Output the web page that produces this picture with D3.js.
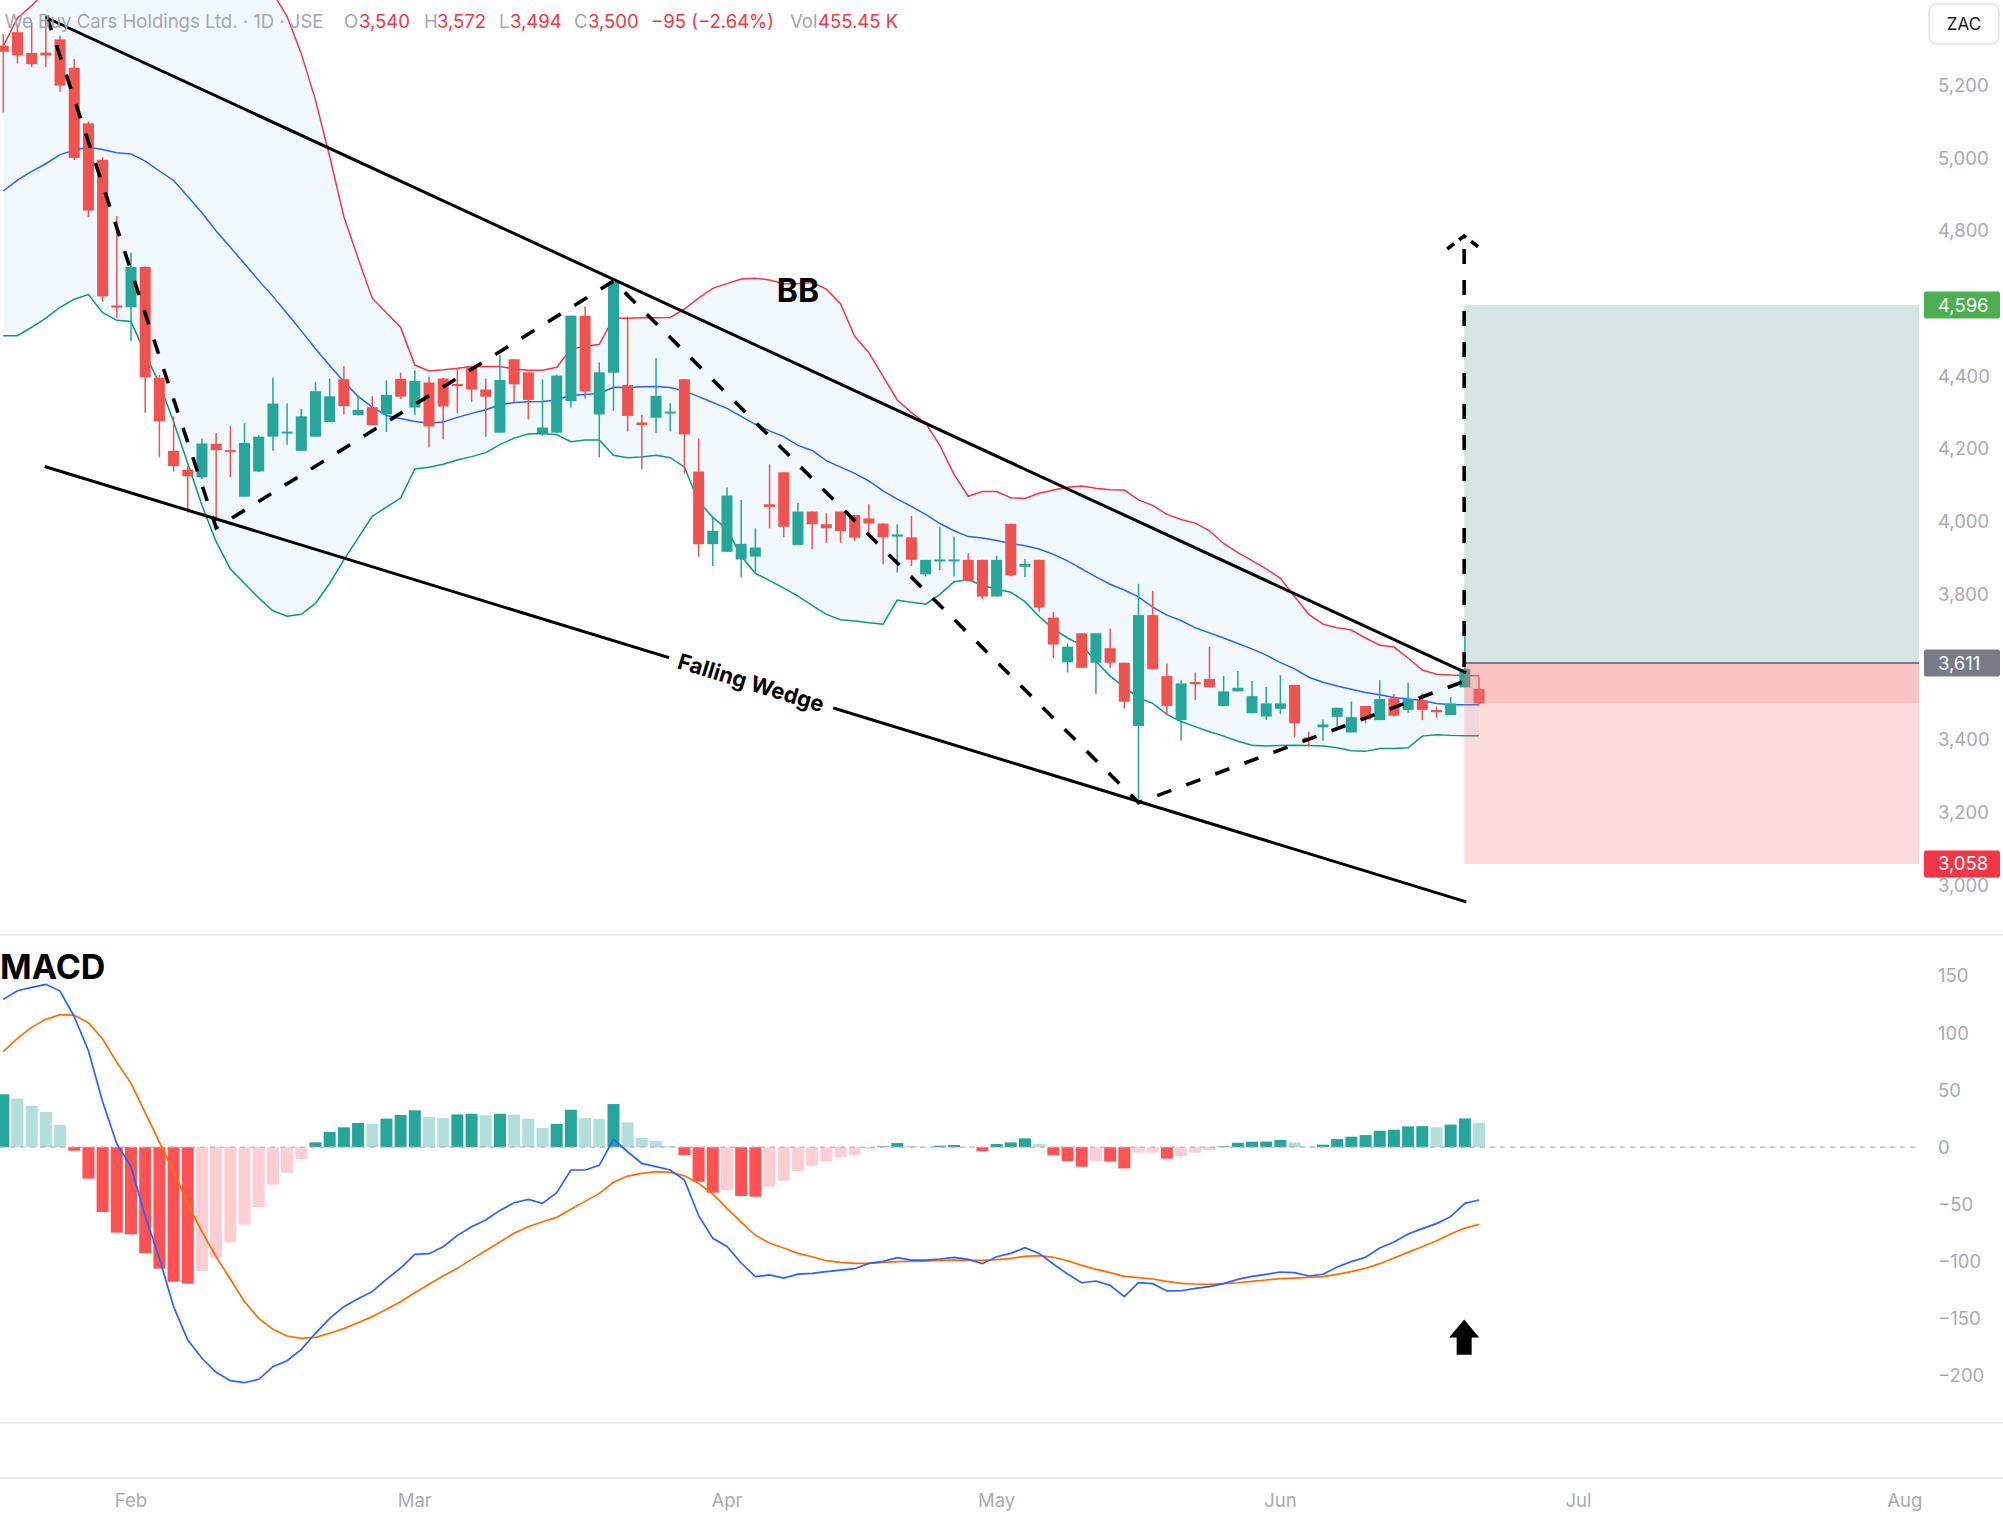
<!DOCTYPE html>
<html>
<head>
<meta charset="utf-8">
<script src="https://cdn.jsdelivr.net/npm/d3@7"></script>
<style>
  body { margin: 0; background: #fff; }
  svg { display: block; font-family: Inter, "Noto Sans", sans-serif; }
</style>
</head>
<body>
<svg id="chart" width="2003" height="1518"></svg>
<script>
// daily candles (bar 0 = first visible bar)
var opens = [5310,5347,5290,5291,5327,5249,5096,4996,4595,4590,
  4701,4396,4195,4143,4123,4214,4197,4069,4138,4234,
  4244,4195,4234,4274,4392,4293,4315,4295,4393,4314,
  4383,4394,4379,4427,4364,4245,4447,4411,4243,4245,
  4332,4566,4295,4410,4376,4273,4286,4298,4392,4138,
  3938,3917,3896,3904,4048,4136,3936,4028,3993,4028,
  4018,4009,3995,3959,3957,3855,3893,3893,3895,3895,
  3794,3994,3876,3895,3736,3613,3693,3612,3652,3612,
  3438,3743,3575,3454,3559,3567,3493,3533,3473,3464,
  3485,3551,3406,3434,3463,3420,3493,3454,3514,3482,
  3509,3482,3468,3544,3540];
var highs = [5342,5367,5372,5391,5337,5273,5101,5003,4841,4741,
  4703,4404,4290,4153,4229,4244,4263,4271,4238,4396,
  4325,4310,4384,4394,4428,4349,4345,4389,4410,4417,
  4399,4396,4422,4427,4394,4457,4447,4411,4392,4404,
  4567,4593,4438,4659,4564,4294,4450,4326,4392,4229,
  4014,4094,4060,3982,4158,4136,4052,4028,4023,4028,
  4018,4048,3995,3993,4016,3895,3986,3959,3913,3895,
  3906,3994,3898,3895,3752,3665,3693,3693,3706,3612,
  3829,3810,3610,3564,3585,3656,3575,3589,3562,3546,
  3578,3551,3422,3456,3488,3505,3493,3564,3526,3557,
  3528,3491,3518,3720,3572];
var lows = [5126,5261,5251,5251,5183,4995,4838,4605,4561,4497,
  4300,4177,4138,4025,4117,4001,4123,4069,4138,4195,
  4212,4195,4234,4274,4295,4293,4266,4247,4338,4294,
  4204,4227,4298,4330,4234,4245,4330,4282,4237,4245,
  4314,4339,4177,4305,4248,4144,4245,4248,4133,3904,
  3878,3917,3847,3860,3982,3957,3936,3924,3942,3942,
  3947,3957,3883,3860,3878,3849,3867,3849,3837,3786,
  3794,3849,3847,3752,3624,3585,3598,3526,3598,3486,
  3227,3594,3468,3397,3509,3544,3493,3533,3473,3454,
  3471,3407,3381,3397,3436,3420,3445,3454,3463,3474,
  3454,3461,3468,3544,3494];
var closes = [5293,5283,5259,5283,5200,5001,4856,4620,4589,4701,
  4397,4276,4153,4125,4215,4197,4193,4217,4234,4325,
  4248,4290,4359,4345,4318,4308,4266,4349,4344,4387,
  4262,4317,4373,4364,4344,4390,4378,4335,4259,4402,
  4567,4358,4411,4659,4291,4266,4346,4303,4240,3938,
  3975,4072,3939,3929,4040,3986,4028,3993,3982,3974,
  3956,3995,3957,3965,3895,3895,3896,3896,3837,3794,
  3895,3852,3884,3764,3662,3656,3598,3693,3612,3505,
  3743,3594,3493,3555,3553,3544,3533,3543,3520,3500,
  3500,3445,3401,3442,3488,3462,3456,3512,3466,3512,
  3482,3476,3500,3595,3500];

// Bollinger bands as drawn
var bbUpper = [5309,5386,5420,5460,5500,5540,5580,5620,5650,5670,
  5680,5680,5670,5650,5620,5580,5540,5510,5485,5455,
  5390,5288,5160,5005,4840,4725,4615,4575,4535,4431,
  4415,4418,4422,4427,4427,4427,4420,4417,4417,4425,
  4475,4482,4488,4560,4560,4561,4561,4562,4585,4615,
  4642,4655,4668,4670,4665,4655,4655,4658,4640,4600,
  4510,4465,4400,4335,4300,4271,4210,4130,4070,4083,
  4083,4066,4064,4078,4087,4095,4098,4092,4088,4087,
  4060,4045,4020,4006,3996,3975,3940,3915,3893,3870,
  3844,3794,3745,3718,3708,3702,3680,3660,3655,3625,
  3592,3580,3578,3577,3576];
var bbMid = [4910,4940,4964,4985,5010,5022,5030,5024,5015,5012,
  4992,4965,4939,4895,4850,4800,4755,4710,4664,4620,
  4573,4525,4476,4430,4385,4345,4315,4292,4284,4276,
  4271,4274,4287,4298,4308,4322,4328,4330,4331,4335,
  4348,4350,4353,4370,4369,4371,4372,4369,4360,4344,
  4328,4312,4290,4268,4250,4234,4210,4196,4168,4150,
  4133,4112,4085,4062,4042,4020,3995,3975,3959,3955,
  3948,3940,3934,3925,3910,3892,3870,3848,3828,3812,
  3793,3765,3743,3728,3708,3694,3680,3665,3650,3633,
  3612,3595,3572,3558,3548,3539,3530,3524,3516,3512,
  3508,3500,3496,3496,3496];
var bbLower = [4512,4512,4535,4560,4590,4612,4625,4575,4554,4551,
  4462,4380,4275,4160,4045,3945,3870,3830,3790,3755,
  3740,3745,3775,3830,3895,3955,4015,4040,4065,4145,
  4150,4158,4170,4179,4190,4212,4230,4241,4243,4239,
  4220,4225,4225,4183,4176,4178,4183,4176,4150,4055,
  4012,3980,3905,3858,3838,3817,3795,3770,3745,3730,
  3727,3722,3718,3784,3778,3773,3800,3835,3840,3825,
  3814,3806,3780,3739,3705,3680,3660,3615,3575,3545,
  3515,3500,3470,3450,3436,3422,3410,3396,3385,3383,
  3384,3385,3384,3383,3378,3370,3368,3376,3376,3378,
  3410,3414,3412,3411,3411];

// MACD pane
var macdLine = [129.5,137.1,140.0,142.7,136.8,114.3,84.5,39.8,2.8,-17.1,
  -60.3,-97.4,-139.8,-169,-185,-197.3,-204.6,-206.4,-203.4,-192.4,
  -187.1,-177.2,-163.1,-150,-139.8,-132.8,-126.6,-115.8,-105.9,-93.9,
  -93.3,-87.2,-77.3,-69.7,-63.8,-55.4,-48.7,-45.7,-49.2,-39.9,
  -20.0,-20.0,-15.9,6.8,-4.0,-14.2,-17.1,-20.0,-28.8,-60,
  -79.9,-87,-101.5,-113.5,-112,-114.7,-111.2,-110.6,-109.1,-107.7,
  -106.5,-101.8,-100.1,-96.8,-98.9,-98.9,-98,-96.5,-98.3,-102.1,
  -96,-93.1,-88.1,-93.1,-102.4,-111.2,-118.8,-117.3,-121.1,-131,
  -118.8,-119.6,-126,-125.8,-123.7,-122.2,-119.6,-115.8,-113.2,-111.4,
  -109.4,-110,-112.9,-111.4,-105,-100.3,-96.5,-88.4,-83.1,-76.1,
  -71.4,-67,-60.9,-49.2,-46.3];
var signalLine = [83.7,95.3,105,112,116.1,115.5,109.1,94.8,74.3,55.9,
  30.2,4.5,-21.2,-49.8,-74.1,-96,-115.8,-135.4,-150,-159.6,
  -165.5,-167.5,-166.6,-163.1,-159,-153.8,-148.5,-142.1,-135.4,-127.5,
  -120.2,-112.9,-106.2,-98.3,-90.7,-83.1,-75.5,-69.7,-65.3,-61.5,
  -54.5,-47.5,-40.5,-30.8,-25.3,-23,-21.5,-22.1,-25,-31.7,
  -41,-53.6,-65.6,-77.3,-84,-88.4,-93.1,-96,-99.5,-100.9,
  -101.8,-101.8,-100.9,-100.3,-100,-99.8,-99.2,-98.9,-99.2,-99.2,
  -98.6,-97.4,-95.7,-95.1,-96.5,-99.5,-103.6,-107.1,-110,-113.2,
  -114.4,-115.5,-117.6,-119.3,-119.9,-120.2,-119.6,-118.8,-117.6,-116.4,
  -115.2,-114.7,-114.1,-113.5,-111.4,-109.1,-106.2,-102.1,-97.1,-92.2,
  -87.2,-82,-76.1,-70.9,-67.6];
var histValues = [46.3,42.5,36.3,30.8,19.4,-3.1,-27.6,-56.8,-74.9,-76.4,
  -93.0,-106.5,-117.9,-119.6,-108.5,-96.8,-83.4,-67.9,-52.4,-32.9,
  -22.4,-10.4,4.2,13.3,17.4,21.2,20.3,25.0,28.2,32.3,
  26.4,25.5,28.7,29.3,27.9,29.3,28.5,25.0,16.8,20.3,
  32.8,25.5,24.7,37.8,21.7,8.0,5.4,0.8,-6.9,-30.3,
  -39.9,-37.6,-42.8,-43.4,-34.6,-29.4,-20.9,-16.2,-12.7,-8.9,
  -6.9,-1.6,0.7,3.6,1.0,0.3,1.3,1.9,0.4,-3.6,
  2.8,4.2,7.7,2.8,-7.2,-12.1,-17.1,-12.1,-12.7,-18.6,
  -4.8,-4.8,-10.1,-7.8,-4.8,-2.5,0.7,3.9,4.8,4.9,
  6.3,4.2,0.7,2.2,7.1,9.2,10.6,14.4,15.3,18.2,
  18.4,17.4,19.8,25.2,21.4];

var priceTicks = [3000,3200,3400,3600,3800,4000,4200,4400,4600,4800,5000,5200];
var macdTicks = [-200,-150,-100,-50,0,50,100,150];
var monthLabels = ["Feb","Mar","Apr","May","Jun","Jul","Aug"];
var monthBars = [9, 29, 51, 70, 90, 111, 134];

// drawings: [bar, price]
var wedgeUpper = [[3.08, 5386], [103.1, 3584]];
var wedgeLower = [[2.92, 4152], [103.1, 2954]];
var zigzag = [[3.06, 5392], [15, 3983], [43, 4662], [80, 3227], [102.9, 3560]];
var projection = [[102.95, 3600], [102.95, 4786]];
var targetPrice = 4596, entryPrice = 3611, stopPrice = 3058;
var positionBars = [102.95, 135];
var volumeText = "455.45 K";

var svg = d3.select("#chart");
var W = 2003, plotRight = 1920, priceBottom = 935, macdBottom = 1423, axisLine = 1478;
var labelX = 1938;
var upColor = "#26a69a", downColor = "#ef5350";
var axisGray = "#a8abb3";
var dash = "15,16";

var x = d3.scaleLinear().domain([0, 104]).range([3.3, 1479.06]);
var y = d3.scaleLinear().domain([3000, 5200]).range([885.1, 85.6]);
var yM = d3.scaleLinear().domain([-200, 150]).range([1375.4, 976]);
var bars = d3.range(opens.length);
var fmt = d3.format(",");

var defs = svg.append("defs");
defs.append("clipPath").attr("id", "clipPrice").append("rect")
  .attr("x", 0).attr("y", 0).attr("width", plotRight).attr("height", priceBottom);
defs.append("clipPath").attr("id", "clipMacd").append("rect")
  .attr("x", 0).attr("y", priceBottom + 1).attr("width", plotRight).attr("height", macdBottom - priceBottom - 1);

// pane separators
[priceBottom, macdBottom, axisLine].forEach(function (yy) {
  svg.append("line").attr("x1", 0).attr("x2", W).attr("y1", yy).attr("y2", yy)
    .attr("stroke", "#e0e3eb").attr("stroke-width", 1.5);
});

var priceG = svg.append("g").attr("clip-path", "url(#clipPrice)");

// bollinger band fill + lines
priceG.append("path").datum(bars)
  .attr("d", d3.area().x(function (i) { return x(i); })
    .y0(function (i) { return y(bbLower[i]); })
    .y1(function (i) { return y(bbUpper[i]); }))
  .attr("fill", "rgba(33,150,243,0.06)");

function bandLine(arr, color) {
  priceG.append("path").datum(bars)
    .attr("d", d3.line().x(function (i) { return x(i); }).y(function (i) { return y(arr[i]); }))
    .attr("fill", "none").attr("stroke", color).attr("stroke-width", 1.5);
}
bandLine(bbUpper, "#f23645");
bandLine(bbMid, "#2962ff");
bandLine(bbLower, "#089981");

// candles
var candle = priceG.selectAll(".candle").data(bars).enter().append("g").attr("class", "candle");
function candleColor(i) { return closes[i] >= opens[i] ? upColor : downColor; }
candle.append("line")
  .attr("x1", function (i) { return x(i); }).attr("x2", function (i) { return x(i); })
  .attr("y1", function (i) { return y(highs[i]); }).attr("y2", function (i) { return y(lows[i]); })
  .attr("stroke", candleColor).attr("stroke-width", 1.5);
candle.append("rect")
  .attr("x", function (i) { return x(i) - 5.5; }).attr("width", 11)
  .attr("y", function (i) { return y(Math.max(opens[i], closes[i])); })
  .attr("height", function (i) { return Math.max(2, Math.abs(y(opens[i]) - y(closes[i]))); })
  .attr("fill", candleColor);

// long position box
var bx0 = x(positionBars[0]), bx1 = x(positionBars[1]);
priceG.append("rect").attr("x", bx0).attr("width", bx1 - bx0)
  .attr("y", y(targetPrice)).attr("height", y(entryPrice) - y(targetPrice))
  .attr("fill", "rgba(83,151,139,0.25)");
priceG.append("rect").attr("x", bx0).attr("width", bx1 - bx0)
  .attr("y", y(entryPrice)).attr("height", y(stopPrice) - y(entryPrice))
  .attr("fill", "rgba(243,115,111,0.25)");
priceG.append("rect").attr("x", bx0).attr("width", bx1 - bx0)
  .attr("y", y(entryPrice)).attr("height", y(closes[closes.length - 1]) - y(entryPrice))
  .attr("fill", "rgba(243,115,111,0.22)");
priceG.append("line").attr("x1", bx0).attr("x2", bx1)
  .attr("y1", y(entryPrice)).attr("y2", y(entryPrice))
  .attr("stroke", "#787b86").attr("stroke-width", 2);

// wedge + pattern lines
var drawLine = d3.line().x(function (d) { return x(d[0]); }).y(function (d) { return y(d[1]); });
priceG.append("path").datum(wedgeUpper).attr("d", drawLine)
  .attr("fill", "none").attr("stroke", "#000").attr("stroke-width", 3);
priceG.append("path").datum(wedgeLower).attr("d", drawLine)
  .attr("fill", "none").attr("stroke", "#000").attr("stroke-width", 3);
priceG.append("path").datum(zigzag).attr("d", drawLine)
  .attr("fill", "none").attr("stroke", "#000").attr("stroke-width", 3.6)
  .attr("stroke-dasharray", dash);
priceG.append("path").datum(projection).attr("d", drawLine)
  .attr("fill", "none").attr("stroke", "#000").attr("stroke-width", 3.6)
  .attr("stroke-dasharray", dash);
var apexX = x(projection[1][0]), apexY = y(projection[1][1]);
priceG.append("path")
  .attr("d", "M" + (apexX - 17) + "," + (apexY + 13) + "L" + apexX + "," + apexY + "L" + (apexX + 17) + "," + (apexY + 13))
  .attr("fill", "none").attr("stroke", "#000").attr("stroke-width", 3.6).attr("stroke-dasharray", "9,6");

// "Falling Wedge" label sitting on the lower line
var labelBar = 52.7;
var t = (labelBar - wedgeLower[0][0]) / (wedgeLower[1][0] - wedgeLower[0][0]);
var labelPrice = wedgeLower[0][1] + t * (wedgeLower[1][1] - wedgeLower[0][1]);
var angle = Math.atan2(y(wedgeLower[1][1]) - y(wedgeLower[0][1]), x(wedgeLower[1][0]) - x(wedgeLower[0][0])) * 180 / Math.PI;
var wedgeLabel = priceG.append("g")
  .attr("transform", "translate(" + x(labelBar) + "," + y(labelPrice) + ") rotate(" + angle + ")");
var wedgeText = wedgeLabel.append("text").attr("text-anchor", "middle").attr("dy", "0.35em")
  .attr("font-size", 22).attr("font-weight", 700).attr("fill", "#000").text("Falling Wedge");
var bb = wedgeText.node().getBBox();
wedgeLabel.insert("rect", "text").attr("x", bb.x - 10).attr("y", -6).attr("width", bb.width + 20).attr("height", 12)
  .attr("fill", "#fff");

priceG.append("text").attr("x", x(56)).attr("y", y(4635)).attr("dy", "0.35em")
  .attr("text-anchor", "middle").attr("font-size", 32).attr("font-weight", 700)
  .attr("fill", "#000").text("BB");

// price axis labels (the scale hides ticks that sit under a price tag)
var tagPrices = [targetPrice, entryPrice, stopPrice];
var shownTicks = priceTicks.filter(function (p) {
  return tagPrices.every(function (tp) { return Math.abs(y(p) - y(tp)) > 18; });
});
svg.append("g").selectAll("text").data(shownTicks).enter().append("text")
  .attr("x", labelX).attr("y", function (d) { return y(d); }).attr("dy", "0.35em")
  .attr("font-size", 18.5).attr("fill", axisGray).text(function (d) { return fmt(d); });

function priceTag(price, color) {
  var g = svg.append("g");
  g.append("rect").attr("x", 1924).attr("y", y(price) - 13.5).attr("width", 76).attr("height", 27)
    .attr("rx", 2).attr("fill", color);
  g.append("text").attr("x", labelX).attr("y", y(price)).attr("dy", "0.35em")
    .attr("font-size", 18.5).attr("fill", "#fff").text(fmt(price));
}
priceTag(targetPrice, "#4caf50");
priceTag(entryPrice, "#787b86");
priceTag(stopPrice, "#f23645");

svg.append("rect").attr("x", 1929).attr("y", 4).attr("width", 70).attr("height", 40).attr("rx", 8)
  .attr("fill", "#fff").attr("stroke", "#e0e3eb").attr("stroke-width", 1.5);
svg.append("text").attr("x", 1964).attr("y", 24).attr("dy", "0.35em").attr("text-anchor", "middle")
  .attr("font-size", 17).attr("fill", "#131722").text("ZAC");

// header legend
var last = opens.length - 1;
var change = closes[last] - closes[last - 1];
var pct = change / closes[last - 1] * 100;
var signed = function (v) { return (v < 0 ? "\u2212" : "+") + Math.abs(v); };
var header = svg.append("text").attr("y", 28).attr("font-size", 18.5);
var gray = "#a3a6af", red = "#f23645";
[
  ["We Buy Cars Holdings Ltd. \u00b7 1D \u00b7 JSE", 4.8, gray],
  ["O", 344, gray], [fmt(opens[last]), 359, red],
  ["H", 424, gray], [fmt(highs[last]), 437, red],
  ["L", 499, gray], [fmt(lows[last]), 510, red],
  ["C", 574, gray], [fmt(closes[last]), 588, red],
  [signed(change) + " (" + (pct < 0 ? "\u2212" : "+") + Math.abs(pct).toFixed(2) + "%)", 651, red],
  ["Vol", 790, gray], [volumeText, 818, red]
].forEach(function (p) {
  header.append("tspan").attr("x", p[1]).attr("fill", p[2]).text(p[0]);
});

// MACD pane
var macdG = svg.append("g").attr("clip-path", "url(#clipMacd)");
function histColor(i) {
  var h = histValues[i], prev = i > 0 ? histValues[i - 1] : null;
  if (h >= 0) return (prev === null || h > prev) ? "#26a69a" : "#b2dfdb";
  return (prev === null || h < prev) ? "#ff5252" : "#ffcdd2";
}
macdG.selectAll(".hist").data(bars).enter().append("rect").attr("class", "hist")
  .attr("x", function (i) { return x(i) - 6; }).attr("width", 12)
  .attr("y", function (i) { return yM(Math.max(0, histValues[i])); })
  .attr("height", function (i) { return Math.abs(yM(histValues[i]) - yM(0)); })
  .attr("fill", histColor);
macdG.append("line").attr("x1", 0).attr("x2", plotRight).attr("y1", yM(0)).attr("y2", yM(0))
  .attr("stroke", "#b2b5be").attr("stroke-width", 1.3).attr("stroke-dasharray", "5,5");

function macdPath(arr, color) {
  macdG.append("path").datum(bars)
    .attr("d", d3.line().x(function (i) { return x(i); }).y(function (i) { return yM(arr[i]); }))
    .attr("fill", "none").attr("stroke", color).attr("stroke-width", 1.7);
}
macdPath(signalLine, "#ff6d00");
macdPath(macdLine, "#2962ff");

// up arrow marker under the last bars
var ax = x(102.95), ty = yM(-151), by = yM(-182), hb = ty + 18;
macdG.append("path")
  .attr("d", "M" + ax + "," + ty + "L" + (ax + 15) + "," + hb + "L" + (ax + 7.5) + "," + hb +
    "L" + (ax + 7.5) + "," + by + "L" + (ax - 7.5) + "," + by + "L" + (ax - 7.5) + "," + hb +
    "L" + (ax - 15) + "," + hb + "Z")
  .attr("fill", "#000");

svg.append("text").attr("x", 0).attr("y", 967).attr("dy", "0.35em")
  .attr("font-size", 34).attr("font-weight", 700).attr("fill", "#000").text("MACD");

svg.append("g").selectAll("text").data(macdTicks).enter().append("text")
  .attr("x", labelX).attr("y", function (d) { return yM(d); }).attr("dy", "0.35em")
  .attr("font-size", 18.5).attr("fill", axisGray).text(function (d) { return d3.format("")(d); });

// month labels
svg.append("g").selectAll("text").data(monthBars).enter().append("text")
  .attr("x", function (b) { return x(b); }).attr("y", 1501).attr("dy", "0.35em")
  .attr("text-anchor", "middle").attr("font-size", 18.5).attr("fill", axisGray)
  .text(function (b, k) { return monthLabels[k]; });
</script>
</body>
</html>
